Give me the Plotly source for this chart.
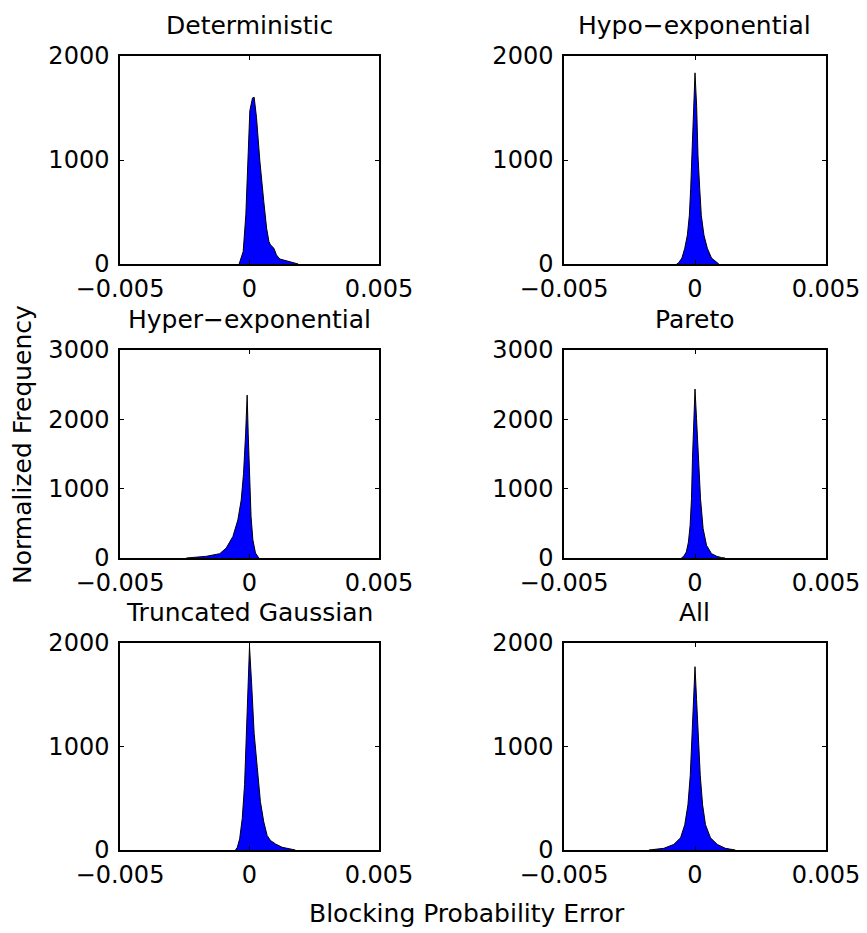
import plotly.graph_objects as go

# Panel titles, in drawing order (row by row, left to right)
titles = ["Deterministic", "Hypo\u2212exponential", "Hyper\u2212exponential",
          "Pareto", "Truncated Gaussian", "All"]

# Error values (x) and normalized frequency (y) for each distribution
det_x = [-0.0004, -0.000244, -0.000141, -0.00005, 0.000013, 0.000116, 0.00018, 0.00027,
         0.0004, 0.00055, 0.00066, 0.00075, 0.00081, 0.00094, 0.00104, 0.00117,
         0.00136, 0.00156, 0.00181, 0.00188]
det_y = [0, 119, 474, 1184, 1474, 1597, 1603, 1410, 990, 603, 345, 216, 184, 152, 87, 48,
         35, 23, 6, 0]

hypo_x = [-0.0007, -0.00063, -0.0005, -0.00039, -0.00029, -0.000215, -0.000165, -0.000114,
          -0.000063, 0.0, 0.000063, 0.000114, 0.00018, 0.00024, 0.00034, 0.00047,
          0.00063, 0.00079, 0.00091]
hypo_y = [0, 10, 57, 152, 279, 469, 723, 1040, 1515, 1838, 1515, 1040, 723, 469, 279, 152,
          57, 19, 0]

hyper_x = [-0.00244, -0.00218, -0.00167, -0.00115, -0.0009, -0.00064, -0.00045, -0.00032,
           -0.00023, -0.00015, -0.00009, -0.00005, 0.0, 0.00006, 0.00013, 0.00023, 0.00036]
hyper_y = [0, 10, 24, 62, 143, 311, 549, 836, 1218, 1791, 2350, 1791, 1075, 597, 263, 72, 0]

pareto_x = [-0.00052, -0.00043, -0.00033, -0.00025, -0.000186, -0.000134, -0.000096,
            -0.000045, 0.0, 0.000058, 0.00013, 0.00021, 0.00031, 0.00044, 0.00063,
            0.00083, 0.00102, 0.00115]
pareto_y = [0, 24, 87, 231, 472, 857, 1435, 2013, 2437, 2013, 1435, 857, 424, 183, 63,
            24, 5, 0]

tgauss_x = [-0.00054, -0.00047, -0.00038, -0.00028, -0.00019, -0.00012, -0.00005, 0.0,
            0.00008, 0.00018, 0.0003, 0.00042, 0.00055, 0.00068, 0.00081, 0.001,
            0.00126, 0.00151, 0.00177]
tgauss_y = [0, 26, 108, 305, 633, 1125, 1616, 1967, 1616, 1125, 797, 469, 272, 141, 92, 59,
            26, 10, 0]

all_x = [-0.00176, -0.00119, -0.00081, -0.00055, -0.00039, -0.00027, -0.00018, -0.00012,
         -0.00006, 0.0, 0.00006, 0.00012, 0.0002, 0.00029, 0.0004, 0.00059, 0.00085,
         0.00116, 0.00154]
all_y = [0, 16, 54, 118, 245, 436, 722, 1072, 1453, 1771, 1453, 1072, 722, 436, 245, 118,
         54, 16, 0]

series_x = [det_x, hypo_x, hyper_x, pareto_x, tgauss_x, all_x]
series_y = [det_y, hypo_y, hyper_y, pareto_y, tgauss_y, all_y]

# Axis ticks
x_tickvals = [-0.005, 0, 0.005]
x_ticktext = ["\u22120.005", "0", "0.005"]
y_max_by_row = [2000, 3000, 2000]
y_tickvals_by_row = [[0, 1000, 2000], [0, 1000, 2000, 3000], [0, 1000, 2000]]

x_label = "Blocking Probability Error"
y_label = "Normalized Frequency"

W, H = 867, 933
FONT = "DejaVu Sans"

col_domains = [[120 / W, 379 / W], [564 / W, 826 / W]]
row_px = [(56, 264), (350, 558), (643, 850)]
row_domains = [[1 - b / H, 1 - t / H] for t, b in row_px]

fig = go.Figure()
layout = dict(
    template="none",
    width=W, height=H,
    margin=dict(l=0, r=0, t=0, b=0, autoexpand=False),
    paper_bgcolor="white", plot_bgcolor="white",
    showlegend=False,
    font=dict(family=FONT, size=24, color="black"),
)
annotations = []

for i in range(6):
    r, c = divmod(i, 2)
    n = i + 1
    xa = "x" if n == 1 else f"x{n}"
    ya = "y" if n == 1 else f"y{n}"
    fig.add_trace(go.Scatter(
        x=series_x[i], y=series_y[i], xaxis=xa, yaxis=ya,
        mode="lines", fill="tozeroy", fillcolor="#0000ff",
        line=dict(color="black", width=1),
        hoverinfo="skip",
    ))
    common = dict(
        automargin=False,
        showline=True, linecolor="black", linewidth=1.5, mirror="ticks",
        ticks="inside", ticklen=4, tickwidth=1, tickcolor="black",
        showgrid=False, zeroline=False,
        tickfont=dict(family=FONT, size=24, color="black"),
    )
    layout["xaxis" if n == 1 else f"xaxis{n}"] = dict(
        common, domain=col_domains[c], anchor=ya, range=[-0.005, 0.005],
        tickmode="array", tickvals=x_tickvals, ticktext=x_ticktext,
        ticklabelstandoff=2,
    )
    layout["yaxis" if n == 1 else f"yaxis{n}"] = dict(
        common, domain=row_domains[r], anchor=xa, range=[0, y_max_by_row[r]],
        tickmode="array", tickvals=y_tickvals_by_row[r],
        ticktext=[str(v) for v in y_tickvals_by_row[r]],
        ticklabelstandoff=4,
    )
    annotations.append(dict(
        text=titles[i], xref="paper", yref="paper",
        x=(col_domains[c][0] + col_domains[c][1]) / 2, y=row_domains[r][1],
        xanchor="center", yanchor="bottom", yshift=14, showarrow=False,
        font=dict(family=FONT, size=25, color="black"),
    ))

annotations.append(dict(
    text=x_label, xref="paper", yref="paper", x=467 / W, y=1 - 913 / H,
    xanchor="center", yanchor="middle", showarrow=False,
    font=dict(family=FONT, size=25, color="black"),
))
annotations.append(dict(
    text=y_label, xref="paper", yref="paper", x=22 / W, y=1 - 445 / H,
    xanchor="center", yanchor="middle", textangle=-90, showarrow=False,
    font=dict(family=FONT, size=25, color="black"),
))
layout["annotations"] = annotations
fig.update_layout(**layout)

fig.write_html("out.html")
